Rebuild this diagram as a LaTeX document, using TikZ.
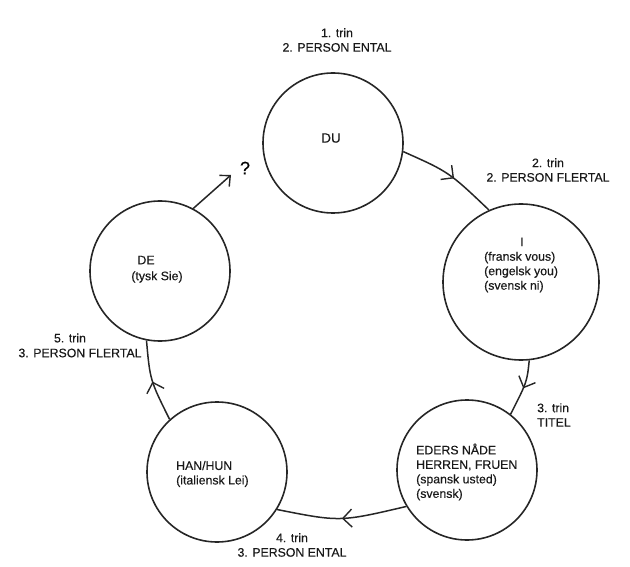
\documentclass[tikz,border=0pt]{standalone}
\usepackage{fontspec}
\setmainfont{Liberation Sans}[FakeBold=0.35]
\usetikzlibrary{arrows.meta,decorations.markings}
\tikzset{
  ring/.style={circle,draw=black!85,line width=1.6pt,inner sep=0pt},
  txt/.style={font=\fontsize{12.3}{14.5}\selectfont,inner sep=0pt,text=black!90},
  conn/.style={draw=black!85,line width=1.5pt},
  midarrow/.style={postaction={decorate},decoration={markings,
     mark=at position #1 with {\arrow{Straight Barb[length=9pt,width=18pt,line width=1.4pt]}}}},
}
\begin{document}
\begin{tikzpicture}[x=1pt,y=-1pt]
\useasboundingbox (0,0) rectangle (630,567);
% circles
\node[ring,minimum size=140pt] (DU) at (333,143) {};
\node[ring,minimum size=156pt] (I) at (521,282) {};
\node[ring,minimum size=140pt] (ED) at (467,470) {};
\node[ring,minimum size=140pt] (HAN) at (217,472) {};
\node[ring,minimum size=140pt] (DE) at (160,271) {};
% texts inside circles
\node[txt,font=\fontsize{13.5}{14}\selectfont] (tDU) at (331,138) {DU};
\node[txt,align=left,anchor=west] (tI) at (484,265) {\hspace*{36pt}I\\(fransk vous)\\(engelsk you)\\(svensk ni)};
\node[txt,align=left,anchor=west] (tED) at (416,472) {EDERS NÅDE\\HERREN, FRUEN\\(spansk usted)\\(svensk)};
\node[txt,align=left,anchor=west] (tHAN) at (176,474) {HAN/HUN\\(italiensk Lei)};
\node[txt] (tDE1) at (146,260) {DE};
\node[txt] (tDE2) at (157,277) {(tysk Sie)};
% step labels
\node[txt,align=center] (l1) at (337,40) {1. trin\\2. PERSON ENTAL};
\node[txt,align=center] (l2) at (548,170) {2. trin\\2. PERSON FLERTAL};
\node[txt,align=left,anchor=west] (l3) at (537,415) {3. trin\\TITEL};
\node[txt,align=center] (l4) at (292,545) {4. trin\\3. PERSON ENTAL};
\node[txt] (l5a) at (70,338) {5. trin};
\node[txt] (l5b) at (80,353) {3. PERSON FLERTAL};
\node[font=\fontsize{18}{18}\selectfont,inner sep=0pt] (qm) at (245,168) {?};
\coordinate (qtip) at (231,175);
% connectors
\draw[conn,midarrow=0.55] (DU.-7) .. controls (449,172) .. (I.114);
\draw[conn,midarrow=0.5] (I.-84) .. controls (527,382) .. (ED.52);
\draw[conn,midarrow=0.5] (ED.211) .. controls (340,522) .. (HAN.-32);
\draw[conn,midarrow=0.5] (HAN.132) .. controls (150,380) .. (DE.259);
\draw[conn,-{Straight Barb[length=8pt,width=15pt,line width=1.4pt]}] (DE.62) -- (qtip);
\end{tikzpicture}
\end{document}
